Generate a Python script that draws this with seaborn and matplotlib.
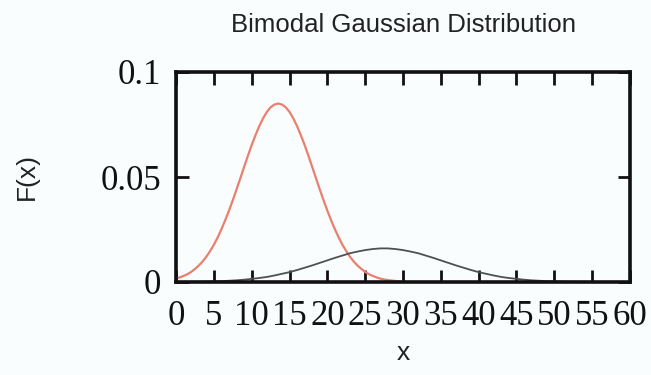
import matplotlib
matplotlib.use("Agg")
import matplotlib.pyplot as plt
import seaborn as sns
import pandas as pd

# Data
red_x = [i * 0.5 for i in range(0, 61)]
red_vals = [0.0016, 0.0022, 0.0029, 0.0037, 0.0048, 0.0062, 0.0078, 0.0097, 0.0120, 0.0147,
            0.0177, 0.0212, 0.0251, 0.0294, 0.0340, 0.0389, 0.0441, 0.0494, 0.0548, 0.0601,
            0.0652, 0.0699, 0.0742, 0.0779, 0.0810, 0.0832, 0.0845, 0.0850, 0.0845, 0.0832,
            0.0810, 0.0779, 0.0742, 0.0699, 0.0652, 0.0601, 0.0548, 0.0494, 0.0441, 0.0389,
            0.0340, 0.0294, 0.0251, 0.0212, 0.0177, 0.0147, 0.0120, 0.0097, 0.0078, 0.0062,
            0.0048, 0.0037, 0.0029, 0.0022, 0.0016, 0.0012, 0.0009, 0.0007, 0.0005, 0.0003,
            0.0002]
black_x = list(range(0, 61))
black_vals = [0.0, 0.0, 0.0001, 0.0001, 0.0002, 0.0003, 0.0004, 0.0006, 0.0008, 0.0011,
              0.0015, 0.0019, 0.0024, 0.0031, 0.0039, 0.0047, 0.0057, 0.0068, 0.0079, 0.0091,
              0.0103, 0.0115, 0.0126, 0.0137, 0.0145, 0.0152, 0.0157, 0.0160, 0.0160, 0.0157,
              0.0152, 0.0145, 0.0137, 0.0126, 0.0115, 0.0103, 0.0091, 0.0079, 0.0068, 0.0057,
              0.0047, 0.0039, 0.0031, 0.0024, 0.0019, 0.0015, 0.0011, 0.0008, 0.0006, 0.0004,
              0.0003, 0.0002, 0.0001, 0.0001, 0.0, 0.0, 0.0, 0.0, 0.0, 0.0, 0.0]
x_ticks = list(range(0, 61, 5))
y_ticks = [0, 0.05, 0.1]
y_tick_labels = ["0", "0.05", "0.1"]

df_red = pd.DataFrame({"x": red_x, "F": red_vals})
df_black = pd.DataFrame({"x": black_x, "F": black_vals})

sns.set_style("white")
bg = "#f9fdfd"
fig = plt.figure(figsize=(6.51, 3.75), dpi=100, facecolor=bg)
ax = fig.add_axes([0.2704, 0.248, 0.6973, 0.560])
ax.set_facecolor(bg)

sns.lineplot(data=df_red, x="x", y="F", ax=ax, color="#e9806f", linewidth=1.6)
sns.lineplot(data=df_black, x="x", y="F", ax=ax, color="#505050", linewidth=1.3)

ax.set_xlim(0, 60)
ax.set_ylim(0, 0.1)
ax.set_xticks(x_ticks)
ax.set_yticks(y_ticks)
ax.set_yticklabels(y_tick_labels)
serif = ["Liberation Serif", "DejaVu Serif"]
for lab in ax.get_xticklabels() + ax.get_yticklabels():
    lab.set_family(serif)
    lab.set_fontsize(25)
    lab.set_color("#111111")
ax.tick_params(direction="in", length=9, width=2, top=True, right=True,
               bottom=True, left=True, colors="#111111")
ax.tick_params(axis="x", pad=13)
ax.tick_params(axis="y", pad=11)
for s in ax.spines.values():
    s.set_visible(True)
    s.set_linewidth(2.6)
    s.set_color("#111111")

sans = ["Liberation Sans", "DejaVu Sans"]
ax.set_title("Bimodal Gaussian Distribution", family=sans, fontsize=18.5, pad=29, color="#222222")
ax.set_xlabel("x", family=sans, fontsize=19, labelpad=6, color="#222222")
ax.set_ylabel("F(x)", family=sans, fontsize=19, labelpad=44, color="#222222")

fig.savefig("out.png", dpi=100, facecolor=bg)
